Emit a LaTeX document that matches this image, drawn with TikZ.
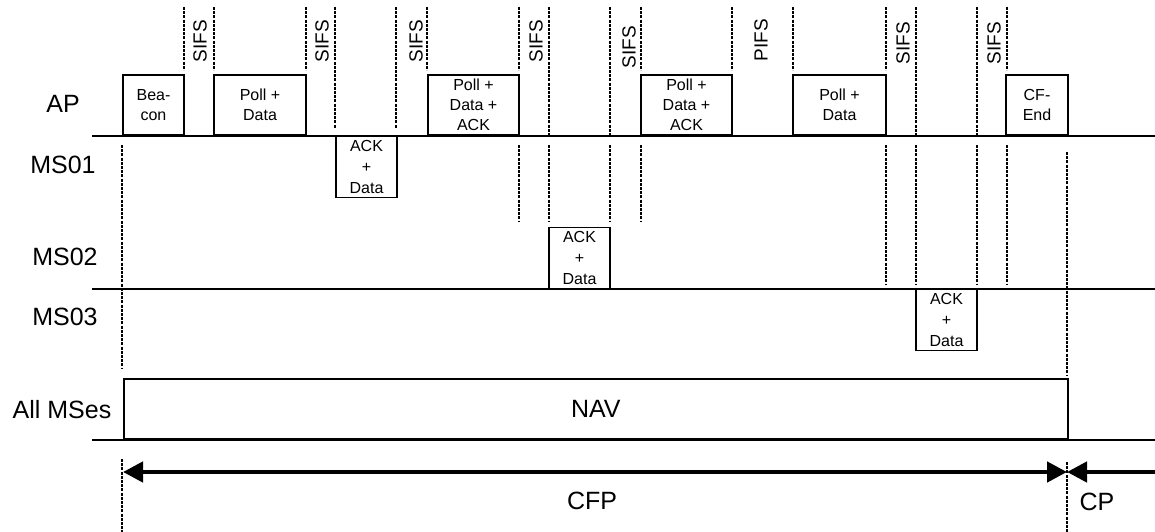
\documentclass[tikz,border=0pt]{standalone}
\usepackage{fontspec}
\setmainfont{Liberation Sans}
\usetikzlibrary{arrows.meta}
\begin{document}
\begin{tikzpicture}[x=1pt,y=-1pt,
  lbl/.style={font=\fontsize{25}{30}\selectfont, inner sep=0pt},
  frame/.style={draw, line width=1.7pt, inner sep=0pt, align=center, font=\fontsize{16}{20}\selectfont},
  apbox/.style={frame, minimum height=60pt, anchor=south},
  msbox/.style={frame, line width=1.4pt, minimum height=61pt, minimum width=61pt, font=\fontsize{16}{21}\selectfont},
  ifs/.style={rotate=90, font=\fontsize{19}{22}\selectfont, inner sep=0pt},
  dsh/.style={line width=1.3pt, dash pattern=on 3pt off 1.2pt},
  baseln/.style={line width=2.8pt},
  bigarrow/.style={line width=4.5pt}
]
\useasboundingbox (0,0) rectangle (1155,532);

% row labels
\node[lbl] (lap) at (63,104) {AP};
\node[lbl] (lms1) at (63,165) {MS01};
\node[lbl] (lms2) at (65,257) {MS02};
\node[lbl] (lms3) at (65,317) {MS03};
\node[lbl] (lall) at (62,410) {All MSes};

% baselines
\coordinate (apL) at (92,136);  \coordinate (apR) at (1155,136);
\coordinate (m2L) at (92,289);  \coordinate (m2R) at (1155,289);
\coordinate (alL) at (92,440);  \coordinate (alR) at (1155,440);
\draw[baseln] (apL) -- (apR);
\draw[baseln] (m2L) -- (m2R);
\draw[baseln] (alL) -- (alR);

% AP frames
\node[apbox, minimum width=61pt] (beacon) at (153.5,136) {Bea-\\con};
\node[apbox, minimum width=92pt] (pd1) at (260,136) {Poll +\\Data};
\node[apbox, minimum width=91pt] (pda1) at (473.5,136) {Poll +\\Data +\\ACK};
\node[apbox, minimum width=91pt] (pda2) at (686.5,136) {Poll +\\Data +\\ACK};
\node[apbox, minimum width=93pt] (pd2) at (839.5,136) {Poll +\\Data};
\node[apbox, minimum width=62pt] (cfend) at (1037,136) {CF-\\End};

% station frames
\node[msbox, anchor=north] (ms1) at (366.5,136) {ACK\\+\\Data};
\node[msbox, anchor=south] (ms2) at (579.5,289) {ACK\\+\\Data};
\node[msbox, anchor=north] (ms3) at (946.5,289) {ACK\\+\\Data};

% NAV
\node[draw, line width=1.7pt, lbl, minimum width=944pt, minimum height=60pt, anchor=south west] (nav) at (123,440) {NAV};

% interframe space labels
\node[ifs] (s1) at (200,41) {SIFS};
\node[ifs] (s2) at (322,41) {SIFS};
\node[ifs] (s3) at (416,41) {SIFS};
\node[ifs] (s4) at (536,41) {SIFS};
\node[ifs] (s5) at (629,47) {SIFS};
\node[ifs] (p1) at (761,40) {PIFS};
\node[ifs] (s6) at (903,43) {SIFS};
\node[ifs] (s7) at (994,43) {SIFS};

% dashed markers
\foreach \x/\a/\b in {184/7/70, 214/7/70, 306/7/70, 335/7/128, 396/7/128, 427/7/70,
  519/7/70, 549/7/136, 610/7/136, 641/7/70, 732/7/70, 793/7/70,
  886/7/70, 916/7/136, 977/7/136, 1007/7/70,
  519/145/222, 549/145/222, 610/145/222, 641/145/222,
  886/145/285, 916/145/285, 977/145/285, 1007/145/285,
  1067/152/375, 1067/462/532, 122/145/368, 122/459/532}
  \draw[dsh] (\x,\a) -- (\x,\b);

% CFP / CP arrows
\coordinate (cfpL) at (123,472);
\coordinate (cfpR) at (1067,472);
\coordinate (cpR) at (1155,472);
\draw[bigarrow, {Triangle[length=20pt,width=20pt]}-{Triangle[length=20pt,width=20pt]}] (cfpL) -- (cfpR);
\draw[bigarrow, -{Triangle[length=20pt,width=20pt]}] (cpR) -- (cfpR);
\node[lbl] (cfp) at (592,501) {CFP};
\node[lbl] (cp) at (1097,502) {CP};
\end{tikzpicture}
\end{document}
